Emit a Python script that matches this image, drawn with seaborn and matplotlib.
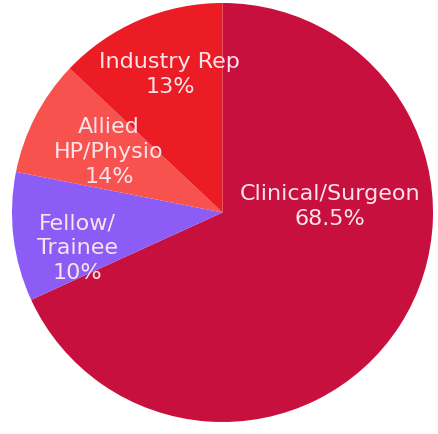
import matplotlib
matplotlib.use("Agg")
import matplotlib.pyplot as plt
import seaborn as sns

# Survey respondents by role (slice sizes as drawn, label text as printed)
roles = ["Clinical/Surgeon", "Fellow/\nTrainee", "Allied\nHP/Physio", "Industry Rep"]
shares = [68.5, 10, 9, 13]
share_labels = ["68.5%", "10%", "14%", "13%"]

colors = ["#C8103F", "#8B5CF6", "#F8524F", "#EC1C25"]
# label anchors in units of the pie radius
label_pos = [(0.51, 0.03), (-0.69, -0.17), (-0.54, 0.29), (-0.25, 0.66)]

sns.set_theme(style="white")
plt.rcParams['font.family'] = ['DejaVu Sans']

fig = plt.figure(figsize=(4.38, 4.34), dpi=100)
ax = fig.add_axes([12/438, 12/434, 421/438, 419/434])

ax.pie(shares, colors=sns.color_palette(colors), startangle=90, counterclock=False,
       radius=1, wedgeprops=dict(linewidth=0))
ax.set_xlim(-1, 1)
ax.set_ylim(-1, 1)
ax.set_aspect('auto')

for (x, y), role, pct in zip(label_pos, roles, share_labels):
    ax.text(x, y, f"{role}\n{pct}", ha="center", va="center", color="#FBE3EA",
            fontsize=16, linespacing=1.3)

fig.savefig("out.png", dpi=100)
